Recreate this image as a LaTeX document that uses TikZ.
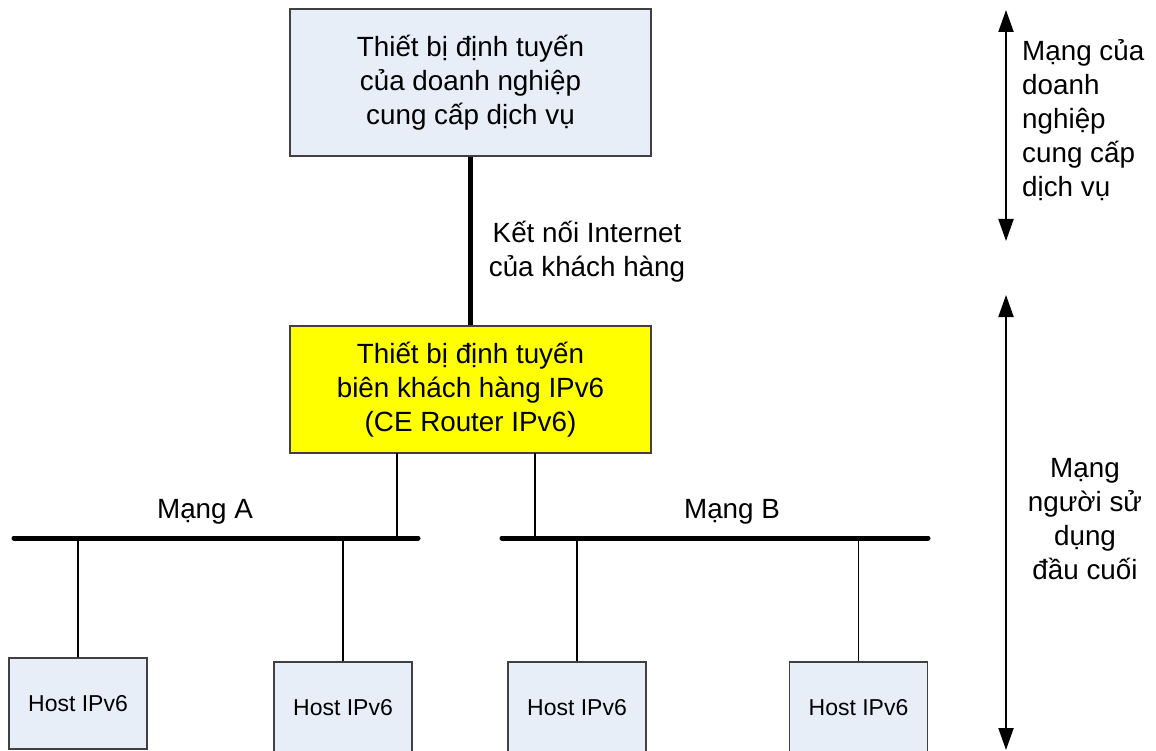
\documentclass[tikz,border=0pt]{standalone}
\usepackage{fontspec}
\setmainfont{Liberation Sans}
\usetikzlibrary{arrows.meta}
\definecolor{boxblue}{HTML}{E8EEF8}
\definecolor{boxyel}{HTML}{FFFF00}
\definecolor{boxline}{HTML}{404040}
\begin{document}
\begin{tikzpicture}[x=1pt,y=-1pt,
  bigtext/.style={font=\fontsize{27.8}{34}\selectfont},
  hosttext/.style={font=\fontsize{23}{28}\selectfont},
  devbox/.style={draw=boxline, line width=1.2pt, rectangle, inner sep=0pt, align=center, bigtext},
  hostbox/.style={draw=boxline, line width=1.2pt, fill=boxblue, rectangle, inner sep=0pt,
     minimum width=138pt, minimum height=91pt, hosttext},
  bus/.style={line width=5pt, line cap=round},
  thin/.style={line width=1.2pt},
  span/.style={line width=2pt, {Triangle[width=15pt,length=22pt]}-{Triangle[width=15pt,length=22pt]}}
]
\useasboundingbox (0,0) rectangle (1156,751);
% devices
\node[devbox, fill=boxblue, minimum width=361pt, minimum height=147pt] (isp) at (470.5,82.5)
  {Thiết bị định tuyến\\của doanh nghiệp\\cung cấp dịch vụ};
\node[devbox, fill=boxyel, minimum width=361pt, minimum height=127pt] (ce) at (470.5,389.5)
  {Thiết bị định tuyến\\biên khách hàng IPv6\\(CE Router IPv6)};
% link
\draw[line width=5pt] (isp.south) -- (ce.north);
\node[bigtext, align=center] (lnk) at (587,252) {Kết nối Internet\\của khách hàng};
% buses
\coordinate (aL) at (14,538);
\coordinate (aR) at (418,538);
\coordinate (bL) at (502,538);
\coordinate (bR) at (928,538);
\draw[bus] (aL) -- (aR);
\draw[bus] (bL) -- (bR);
\node[bigtext] (la) at (205,512) {Mạng A};
\node[bigtext] (lb) at (732,512) {Mạng B};
\coordinate (ceA) at (397,453);
\coordinate (ceB) at (535,453);
\draw[thin] (ceA) -- (ceA |- aR);
\draw[thin] (ceB) -- (ceB |- bL);
% hosts
\node[hostbox] (h1) at (78,703.5) {Host IPv6};
\node[hostbox] (h2) at (343,707.5) {Host IPv6};
\node[hostbox] (h3) at (577,707.5) {Host IPv6};
\node[hostbox] (h4) at (858.5,707.5) {Host IPv6};
\draw[thin] (h1.north) -- (h1.north |- aL);
\draw[thin] (h2.north) -- (h2.north |- aL);
\draw[thin] (h3.north) -- (h3.north |- bL);
\draw[thin] (h4.north) -- (h4.north |- bL);
% spans
\coordinate (s1t) at (1006,10);
\coordinate (s1b) at (1006,241);
\coordinate (s2t) at (1006,295);
\coordinate (s2b) at (1006,750);
\draw[span] (s1t) -- (s1b);
\draw[span] (s2t) -- (s2b);
\node[bigtext, align=left, anchor=west, inner sep=0pt] (t1) at (1022,120)
  {Mạng của\\doanh\\nghiệp\\cung cấp\\dịch vụ};
\node[bigtext, align=center] (t2) at (1085,519)
  {Mạng\\người sử\\dụng\\đầu cuối};
\end{tikzpicture}
\end{document}
